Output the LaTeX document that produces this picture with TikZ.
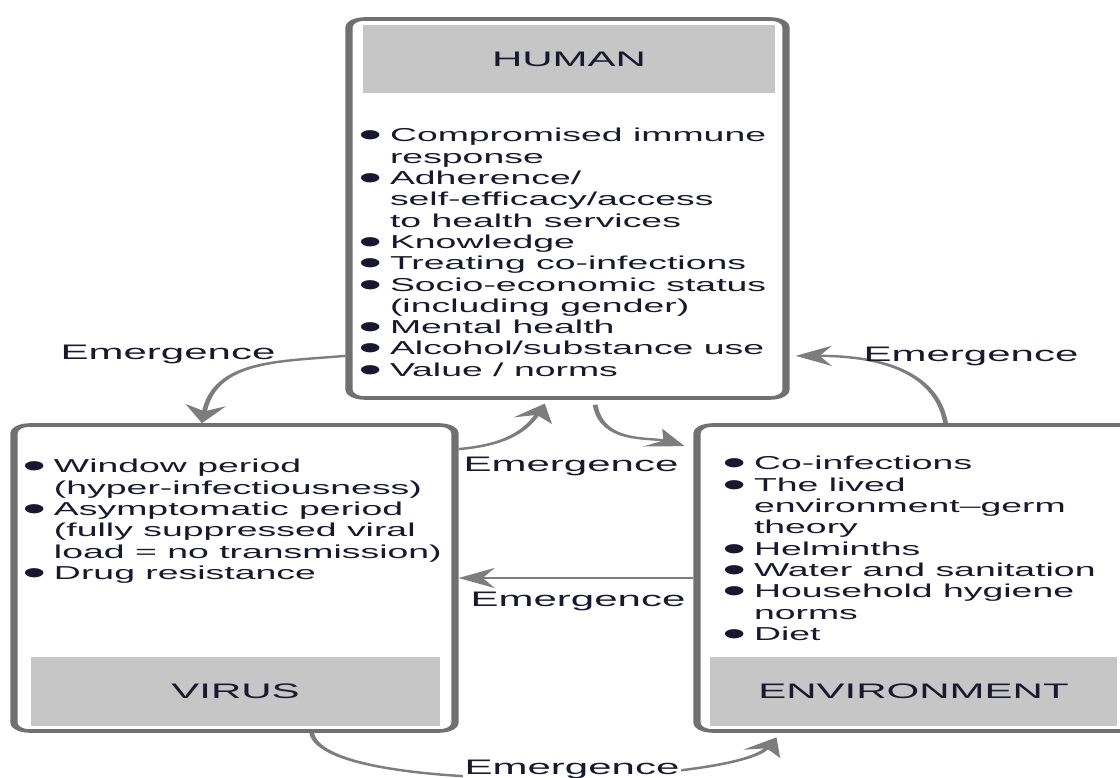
\documentclass[tikz,border=0pt]{standalone}
\usepackage{fontspec}
\setmainfont{Liberation Sans}
\usetikzlibrary{arrows.meta}
\definecolor{framecol}{RGB}{112,112,112}
\definecolor{flowcol}{RGB}{125,125,125}
\definecolor{headfill}{RGB}{198,198,198}
\definecolor{inkcol}{RGB}{24,24,46}
\newcommand{\bul}{\makebox[15.8pt][l]{\smash{\raisebox{-5pt}{\fontsize{34}{34}\selectfont\textbullet}}}}
\tikzset{
  panel/.style={draw=framecol,line width=3.6pt,rounded corners=8pt,fill=white,inner sep=0pt},
  header/.style={fill=headfill,inner sep=0pt,text=inkcol,font=\fontsize{21}{24}\selectfont},
  items/.style={anchor=base west,inner sep=0pt,text=inkcol,font=\fontsize{18.7}{21.3}\selectfont},
  lbl/.style={anchor=base,inner sep=1pt,text=inkcol,font=\fontsize{21}{24}\selectfont},
  flow/.style={-{Stealth[length=18pt,width=20pt,inset=6pt]},draw=flowcol,line width=2.4pt}
}

\begin{document}
\begin{tikzpicture}[x=10pt,y=10pt]
  \useasboundingbox (0,0) rectangle (112,77.8);
  % everything is drawn at half width and stretched
  \begin{scope}[x=5pt,transform canvas={xscale=2}]
  \node[panel,minimum width=218.5pt,minimum height=379pt] (human) at (56.75,56.95) {};
  \node[panel,minimum width=220.5pt,minimum height=306pt] (virus) at (23.45,20.0) {};
  \node[panel,minimum width=221.5pt,minimum height=306pt] (env) at (91.85,20.0) {};

  \node[header,minimum width=206pt,minimum height=68pt] (humanhead) at (56.9,71.9) {HUMAN};
  \node[header,minimum width=204.5pt,minimum height=69pt] (virushead) at (23.55,8.65) {VIRUS};
  \node[header,minimum width=203.5pt,minimum height=69pt] (envhead) at (91.35,8.65) {ENVIRONMENT};

  \node[items] (humanlist) at (35.8,63.6) {\begin{tabular}[t]{@{}l@{}l@{}}
    \bul & Compromised immune\\
         & response\\
    \bul & Adherence/\\
         & self-efficacy/access\\
         & to health services\\
    \bul & Knowledge\\
    \bul & Treating co-infections\\
    \bul & Socio-economic status\\
         & (including gender)\\
    \bul & Mental health\\
    \bul & Alcohol/substance use\\
    \bul & Value / norms
  \end{tabular}};
  \node[items] (viruslist) at (2.2,30.5) {\begin{tabular}[t]{@{}l@{}l@{}}
    \bul & Window period\\
         & (hyper-infectiousness)\\
    \bul & Asymptomatic period\\
         & (fully suppressed viral\\
         & load = no transmission)\\
    \bul & Drug resistance
  \end{tabular}};
  \node[items] (envlist) at (72.2,30.8) {\begin{tabular}[t]{@{}l@{}l@{}}
    \bul & Co-infections\\
    \bul & The lived\\
         & environment--germ\\
         & theory\\
    \bul & Helminths\\
    \bul & Water and sanitation\\
    \bul & Household hygiene\\
         & norms\\
    \bul & Diet
  \end{tabular}};

  % emergence loops between the three panels
  \draw[flow] (human.233) .. controls +(185:6.5) and +(78:6.5) .. (virus.96);
  \draw[flow,shorten >=4pt] (virus.49) .. controls +(5:4.2) and +(235:4.2) .. (human.267);
  \draw[flow,shorten <=5pt,shorten >=5pt] (human.274) .. controls +(-80:4.5) and +(165:4.5) .. (env.131);
  \draw[flow,shorten >=3pt] (env.85) .. controls +(100:6.4) and +(0:6.4) .. (human.307);
  \draw[flow] (env.west) -- (virus.east);
  \draw[flow,shorten >=5pt] (virus.284) .. controls +(-80:6.5) and +(228:7) .. (env.246);

  \node[lbl] (em1) at (16.8,41.8) {Emergence};
  \node[lbl] (em2) at (57.1,30.6) {Emergence};
  \node[lbl] (em3) at (97.1,41.6) {Emergence};
  \node[lbl] (em4) at (57.8,17.1) {Emergence};
  \node[lbl,fill=white] (em5) at (57.2,0.3) {Emergence};
  \end{scope}
\end{tikzpicture}
\end{document}
